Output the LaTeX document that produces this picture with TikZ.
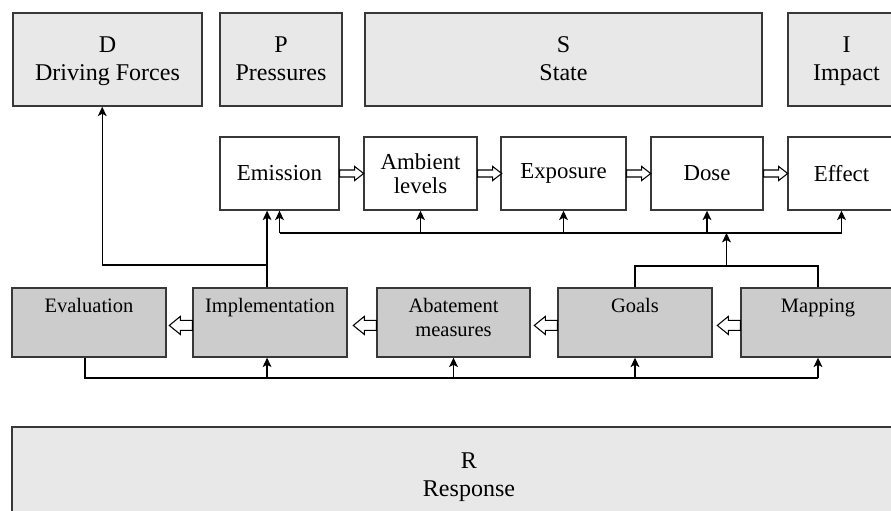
\documentclass[tikz,border=0pt]{standalone}
\usepackage{fontspec}
\setmainfont{Liberation Serif}
\usetikzlibrary{arrows.meta, calc}
\definecolor{lightbox}{HTML}{E8E8E8}
\definecolor{darkbox}{HTML}{CCCCCC}
\definecolor{edgegray}{HTML}{383838}
\tikzset{
	dpsirbox/.style={draw=edgegray, line width=1.2pt, fill=lightbox, align=center, inner sep=2pt, text depth=1pt, font=\fontsize{20.5}{24}\selectfont}
}
\tikzset{
	chainbox/.style={draw=edgegray, line width=1.2pt, fill=white, align=center, inner sep=2pt, minimum height=2.19cm, font=\fontsize{19.5}{21}\selectfont}
}
\tikzset{
	policybox/.style={draw=edgegray, line width=1.2pt, fill=darkbox, minimum height=2.07cm, minimum width=4.62cm}
}
\tikzset{
	policytext/.style={anchor=north, yshift=-6pt, align=center, font=\fontsize{17.5}{20}\selectfont}
}
\tikzset{
	feed/.style={line width=1pt, -{Stealth[length=8pt, width=7.5pt, inset=2pt]}}
}
\tikzset{
	fwdarrow/.pic={
			\draw[line width=0.9pt, fill=white, line join=miter]
			(0,-3.5) --
			(15,-3.5) --
			(15,-7) --
			(24,0) --
			(15,7) --
			(15,3.5) --
			(0,3.5) --
			cycle;
		}
}
\tikzset{
	backarrow/.pic={
			\draw[line width=0.9pt, fill=white, line join=miter]
			(0,-5) --
			(12,-5) --
			(12,-9) --
			(23,0) --
			(12,9) --
			(12,5) --
			(0,5) --
			cycle;
		}
}

\begin{document}
\begin{tikzpicture}[x=0.03cm, y=-0.03cm]
\useasboundingbox (0,0) rectangle (891,511);

% D P S I
\node[dpsirbox, minimum width=5.67cm, minimum height=2.79cm] (drive) at (107.5,59.5) {D\\Driving Forces};
\node[dpsirbox, minimum width=3.66cm, minimum height=2.79cm] (press) at (281,59.5) {P\\Pressures};
\node[dpsirbox, minimum width=11.91cm, minimum height=2.79cm] (state) at (563.5,59.5) {S\\State};
\node[dpsirbox, minimum width=3.51cm, minimum height=2.79cm] (impact) at (846.5,59.5) {I\\Impact};

% chain
\node[chainbox, minimum width=3.57cm] (emis) at (279.5,173.5) {Emission};
\node[chainbox, minimum width=3.39cm] (amb) at (420.5,173.5) {Ambient\\levels};
\node[chainbox, minimum width=3.75cm] (expo) at (563.5,173.5) {Exposure};
\node[chainbox, minimum width=3.36cm] (dose) at (707,173.5) {Dose};
\node[chainbox, minimum width=3.21cm] (effect) at (841.5,173.5) {Effect};

% policy cycle
\node[policybox, label={[policytext]north:Evaluation}] (eval) at (89,322.5) {};
\node[policybox, label={[policytext]north:Implementation}] (impl) at (270,322.5) {};
\node[policybox, minimum width=4.59cm, label={[policytext]north:Abatement\\measures}] (abat) at (453.5,322.5) {};
\node[policybox, label={[policytext]north:Goals}] (goals) at (635,322.5) {};
\node[policybox, label={[policytext]north:Mapping}] (mapp) at (818,322.5) {};

% R
\node[dpsirbox, minimum width=27.42cm, minimum height=2.88cm] (resp) at (469,475) {R\\Response};

\path (emis.east) -- (amb.west) pic[pos=0, sloped]{fwdarrow};
\path (amb.east) -- (expo.west) pic[pos=0, sloped]{fwdarrow};
\path (expo.east) -- (dose.west) pic[pos=0, sloped]{fwdarrow};
\path (dose.east) -- (effect.west) pic[pos=0, sloped]{fwdarrow};

\path ([yshift=-2.5pt]impl.west) -- ([yshift=-2.5pt]eval.east) pic[pos=0, sloped, allow upside down]{backarrow};
\path ([yshift=-2.5pt]abat.west) -- ([yshift=-2.5pt]impl.east) pic[pos=0, sloped, allow upside down]{backarrow};
\path ([yshift=-2.5pt]goals.west) -- ([yshift=-2.5pt]abat.east) pic[pos=0, sloped, allow upside down]{backarrow};
\path ([yshift=-2.5pt]mapp.west) -- ([yshift=-2.5pt]goals.east) pic[pos=0, sloped, allow upside down]{backarrow};

\coordinate (bus) at (0,233);
\coordinate (fb) at (0,265);
\coordinate (gm) at (0,266);
\coordinate (low) at (0,378);
\coordinate (implup) at ([xshift=-2.5pt]impl.north);

% feedback to driving forces
\draw[feed] (implup) -- (implup |- emis.south);
\draw[feed] (implup |- fb) -| ([xshift=-4.5pt]drive.south);

% bus under the chain
\draw[line width=1pt] (emis.south |- bus) -- (effect.south |- bus);
\draw[feed] (emis.south |- bus) -- (emis.south);
\draw[feed] (amb.south |- bus) -- (amb.south);
\draw[feed] (expo.south |- bus) -- (expo.south);
\draw[feed] (dose.south |- bus) -- (dose.south);
\draw[feed] (effect.south |- bus) -- (effect.south);

\draw[line width=1pt] (goals.north) |- (mapp.north |- gm) -- (mapp.north);
\coordinate (gmid) at ($(goals.north |- gm)!0.5!(mapp.north |- gm)$);
\draw[feed] (gmid) -- (gmid |- bus);

% bottom loop
\draw[line width=1pt] ([xshift=-3.4pt]eval.south) |- (mapp.south |- low);
\draw[feed] (implup |- low) -- (implup |- impl.south);
\draw[feed] (abat.south |- low) -- (abat.south);
\draw[feed] (goals.south |- low) -- (goals.south);
\draw[feed] (mapp.south |- low) -- (mapp.south);

\end{tikzpicture}
\end{document}
